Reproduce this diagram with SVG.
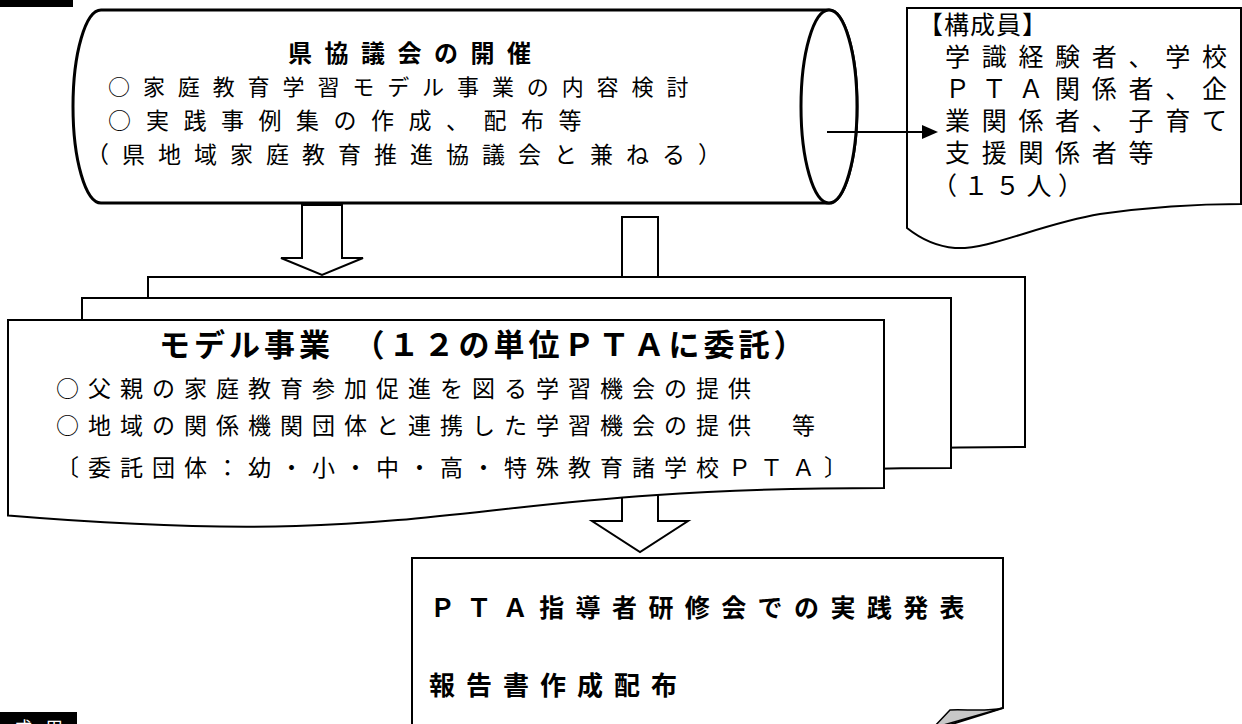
<svg xmlns="http://www.w3.org/2000/svg" width="1242" height="724" viewBox="0 0 1242 724">
<style>
.g{font-family:"Noto Sans CJK JP","Noto Sans",sans-serif;fill:#000}
.m{font-family:"Liberation Serif","Noto Sans CJK JP",serif;fill:#000}
.b{font-weight:bold}
.shape{fill:#fff;stroke:#000;stroke-width:2}
.thick{fill:#fff;stroke:#000;stroke-width:3}
.conn{fill:#fff;stroke:#000;stroke-width:2}
</style>
<defs>
<marker id="ah" markerUnits="userSpaceOnUse" markerWidth="16" markerHeight="14" refX="2" refY="7" orient="auto">
<path d="M0,0 L16,7 L0,14 Z" fill="#000"/>
</marker>
</defs>
<rect width="1242" height="724" fill="#fff"/>
<g id="labels">
<rect x="0" y="0" width="73" height="7" fill="#000"/>
<rect x="0" y="712" width="77" height="12" fill="#000"/>
<text class="g" x="14" y="735" font-size="18" letter-spacing="13" style="fill:#fff">成用</text>
</g>
<g id="n-council">
<path class="thick" d="M101,10 H829 A28,96.5 0 0 1 829,203 H101 A28,96.5 0 0 1 101,10 Z"/>
<ellipse class="thick" cx="829" cy="106.5" rx="28" ry="96.5"/>
<text class="g b" x="288" y="62" font-size="24" letter-spacing="12.5">県協議会の開催</text>
<text class="g" x="108" y="95" font-size="22" letter-spacing="12.9">○家庭教育学習モデル事業の内容検討</text>
<text class="g" y="129" font-size="23" letter-spacing="14.5"><tspan x="108">○</tspan><tspan x="146">実践事例集の作成、配布等</tspan></text>
<text class="g" x="86" y="163" font-size="23" letter-spacing="13">（県地域家庭教育推進協議会と兼ねる）</text>
</g>
<g id="n-members">
<path class="shape" d="M907,8 H1241 V204 C1200,204 1150,207 1100,214 C1040,224 990,250 955,248 C932,246 917,236 907,228 Z"/>
<text class="m" x="918" y="34" font-size="25" letter-spacing="1">【構成員】</text>
<text class="m" x="945" y="66" font-size="25" letter-spacing="11.7">学識経験者、学校</text>
<text class="m" x="945" y="98" font-size="25" letter-spacing="11.7">ＰＴＡ関係者、企</text>
<text class="m" x="945" y="130" font-size="25" letter-spacing="11.7">業関係者、子育て</text>
<text class="m" x="945" y="162" font-size="25" letter-spacing="11.7">支援関係者等</text>
<text class="m" x="932" y="195" font-size="25" letter-spacing="6.5">（１５人）</text>
</g>
<g id="connectors">
<line x1="827" y1="132" x2="924" y2="132" stroke="#000" stroke-width="2" marker-end="url(#ah)"/>
<path class="conn" d="M302,205 V258 H281 L322,275 L363,258 H342 V205 Z"/>
<path class="conn" d="M622,300 V217 H658 V300"/>
<path class="conn" d="M622,495 V521 H592 L640,552 L688,521 H658 V495 Z"/>
</g>
<g id="n-model">
<path class="shape" d="M148,277 H1025 V447 C586.5,447 586.5,511.7 148,475 Z"/>
<path class="shape" d="M82,298 H951 V468 C516.5,468 516.5,532.7 82,496 Z"/>
<path class="shape" d="M8,320 H884 V488 C446,488 446,552 8,515.6 Z"/>
<text class="g b" x="159" y="356" font-size="31" letter-spacing="4">モデル事業　（１２の単位ＰＴＡに委託）</text>
<text class="g" x="56" y="397" font-size="23" letter-spacing="9">○父親の家庭教育参加促進を図る学習機会の提供</text>
<text class="g" x="56" y="434" font-size="23" letter-spacing="9">○地域の関係機関団体と連携した学習機会の提供　等</text>
<text class="g" x="56" y="476" font-size="23" letter-spacing="9">〔委託団体：幼・小・中・高・特殊教育諸学校ＰＴＡ〕</text>
</g>
<g id="n-report">
<path class="shape" d="M412,558 H1003 V708 L933,730 H412 Z"/>
<path d="M1003,708 C985,712 965,709 950,710 L933,728 Z" fill="#c8c8c8" stroke="#000" stroke-width="1.5"/>
<text class="g b" x="430" y="617" font-size="25" letter-spacing="11.4">ＰＴＡ指導者研修会での実践発表</text>
<text class="g b" x="429" y="695" font-size="26" letter-spacing="11">報告書作成配布</text>
</g>
</svg>
